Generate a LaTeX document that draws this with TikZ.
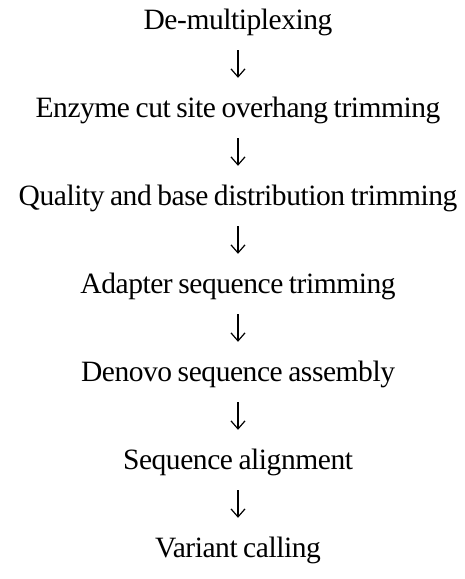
\documentclass[tikz,border=0pt]{standalone}
\usepackage{fontspec}
\setmainfont{Liberation Serif}[LetterSpace=-1.5, WordSpace=0.8]
\usetikzlibrary{arrows.meta}
\begin{document}
\begin{tikzpicture}[x=1pt,y=1pt,
  steptext/.style={anchor=base, inner sep=0pt, text height=20pt, text depth=7pt,
    font=\fontsize{29.5}{31}\selectfont},
  flowarrow/.style={draw, line width=1.2pt, -{Straight Barb[length=8pt,width=14pt,line width=1.2pt]},
    shorten <=14pt, shorten >=19pt}]
\useasboundingbox (0,0) rectangle (465,-579);
\node[steptext] (s1) at (238,-29) {De-multiplexing};
\node[steptext] (s2) at (238,-117) {Enzyme cut site overhang trimming};
\node[steptext] (s3) at (238,-205) {Quality and base distribution trimming};
\node[steptext] (s4) at (238,-293) {Adapter sequence trimming};
\node[steptext] (s5) at (238,-381) {Denovo sequence assembly};
\node[steptext] (s6) at (238,-469) {Sequence alignment};
\node[steptext] (s7) at (238,-557) {Variant calling};
\foreach \a/\b in {s1/s2,s2/s3,s3/s4,s4/s5,s5/s6,s6/s7}
  \draw[flowarrow] (\a.south) -- (\b.north);
\end{tikzpicture}
\end{document}
